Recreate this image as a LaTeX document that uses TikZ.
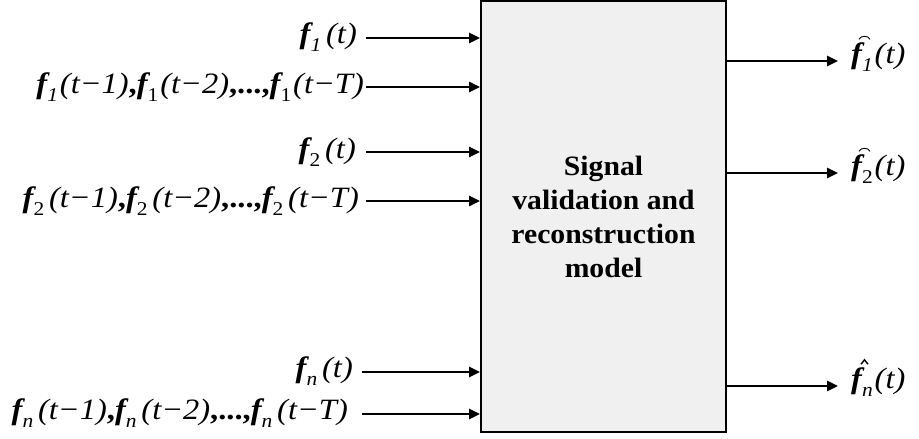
\documentclass[tikz,border=0pt]{standalone}
\usepackage{fontspec}
\setmainfont{Liberation Serif}
\newfontfamily\lblfont[FakeStretch=1.1]{Liberation Serif}
\newfontfamily\boxfont[FakeStretch=1.06]{Liberation Serif}
\usetikzlibrary{arrows.meta}
\newcommand\fb{{\bfseries\itshape f}}
\newcommand\mysub[1]{\raisebox{-0.28em}{\fontsize{19.5}{19.5}\selectfont #1}}
\newcommand\bd[1]{{\bfseries\upshape #1}}
\definecolor{boxfill}{HTML}{F0F0F0}
\begin{document}
\begin{tikzpicture}[x=1pt,y=-1pt,
  lbl/.style={inner sep=0pt,font=\lblfont\fontsize{29.5}{31}\selectfont\itshape},
  arr/.style={line width=2.6pt,-{Triangle[length=11pt,width=10pt]}},
  mainbox/.style={draw,line width=2pt,fill=boxfill,inner sep=0pt,
    minimum width=245pt,minimum height=431pt,align=center,
    font=\boxfont\bfseries\fontsize{28}{34}\selectfont}]
\useasboundingbox (0,0) rectangle (919,439);
\node[mainbox] (m) at (603.5,216.5) {Signal\\validation and\\reconstruction\\model};
% inputs
\node[lbl,anchor=east] (i1) at (357,37) {\fb\mysub{\itshape 1}\,(t)};
\node[lbl,anchor=east] (i2) at (364,87) {\fb\mysub{\itshape 1}\kern2pt(t−1)\bd{,}\fb\mysub{\upshape 1}\kern2pt(t−2)\bd{,...,}\fb\mysub{\upshape 1}\kern2pt(t−T)};
\node[lbl,anchor=east] (i3) at (356,152) {\fb\mysub{\upshape 2}\,(t)};
\node[lbl,anchor=east] (i4) at (359,201) {\fb\mysub{\upshape 2}\,(t−1)\bd{,}\fb\mysub{\upshape 2}\,(t−2)\bd{,...,}\fb\mysub{\upshape 2}\,(t−T)};
\node[lbl,anchor=east] (i5) at (353,371) {\fb\mysub{\itshape n}\,(t)};
\node[lbl,anchor=east] (i6) at (348,413) {\fb\mysub{\itshape n}\,(t−1)\bd{,}\fb\mysub{\itshape n}\,(t−2)\bd{,...,}\fb\mysub{\itshape n}\,(t−T)};
\coordinate (s1) at (366,38);
\coordinate (s2) at (366,87);
\coordinate (s3) at (366,152);
\coordinate (s4) at (366,201);
\coordinate (s5) at (362,372);
\coordinate (s6) at (362,414);
\foreach \k in {1,...,6} \draw[arr] (s\k) -- (s\k -| m.west);
% outputs
\coordinate (e1) at (838,61);
\coordinate (e2) at (838,173);
\coordinate (e3) at (838,386);
\foreach \k in {1,2,3} \draw[arr] (e\k -| m.east) -- (e\k);
\node[lbl,anchor=west] (o1) at (851,57) {\fb\mysub{\itshape 1}\kern2pt(t)};
\node[lbl,anchor=west] (o2) at (851,169) {\fb\mysub{\upshape 2}\kern2pt(t)};
\node[lbl,anchor=west] (o3) at (851,382) {\fb\mysub{\itshape n}\kern2pt(t)};
\draw[line width=0.9pt] ([xshift=8pt,yshift=3pt]o1.north west) to[bend left=70] ([xshift=19pt,yshift=3pt]o1.north west);
\draw[line width=0.9pt] ([xshift=8pt,yshift=3pt]o2.north west) to[bend left=70] ([xshift=19pt,yshift=3pt]o2.north west);
\draw[line width=1.4pt] ([xshift=10pt,yshift=3pt]o3.north west) -- ([xshift=13.5pt,yshift=7.5pt]o3.north west) -- ([xshift=17pt,yshift=3pt]o3.north west);
\end{tikzpicture}
\end{document}
